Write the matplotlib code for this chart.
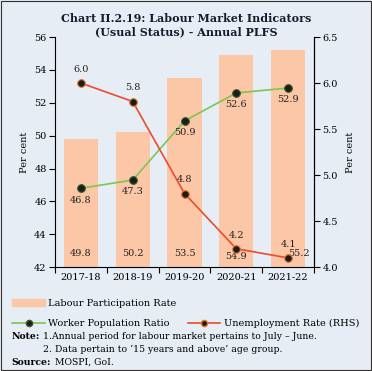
import numpy as np
import matplotlib.pyplot as plt
from matplotlib.patches import Rectangle, Patch
from matplotlib.lines import Line2D

# data
years = ['2017-18', '2018-19', '2019-20', '2020-21', '2021-22']
lpr = [49.8, 50.2, 53.5, 54.9, 55.2]
wpr = [46.8, 47.3, 50.9, 52.6, 52.9]
ur = [6.0, 5.8, 4.8, 4.2, 4.1]

bg = '#e7edf4'
bar_c = '#fbc7a6'
green = '#7cc653'
red = '#ef4a2b'

plt.rcParams['font.family'] = ['DejaVu Serif']
plt.rcParams['font.size'] = 7

fig = plt.figure(figsize=(3.72, 3.71), dpi=100, facecolor=bg)
ax = fig.add_axes([0.148, 0.28, 0.696, 0.62], facecolor=bg)
ax2 = ax.twinx()

x = np.arange(len(years))
ax.bar(x, lpr, width=0.66, color=bar_c, zorder=1)
ax.plot(x, wpr, color=green, lw=1.2, marker='o', ms=5.5,
        mfc='#1c1c1c', mec='#3a5a2a', mew=0.8, zorder=3)
ax2.plot(x, ur, color=red, lw=1.2, marker='o', ms=5.5,
         mfc='#1c1c1c', mec='#e07a30', mew=0.8, zorder=3)

ax.set_ylim(42, 56)
ax.set_yticks(np.arange(42, 57, 2))
ax2.set_ylim(4.0, 6.5)
ax2.set_yticks(np.arange(4.0, 6.51, 0.5))
ax2.set_yticklabels([f'{v:.1f}' for v in np.arange(4.0, 6.51, 0.5)])
ax.set_xlim(-0.5, 4.5)
ax.set_xticks(np.arange(-0.5, 4.6, 1))
ax.set_xticklabels([])
ax.set_xticks(x, minor=True)
ax.set_xticklabels(years, minor=True)
ax.tick_params(axis='x', which='minor', length=0, pad=4)
ax.tick_params(axis='x', which='major', length=4, direction='out')
ax.tick_params(axis='y', length=4, pad=2)
ax2.tick_params(axis='y', length=4, pad=2)

for a in (ax, ax2):
    a.spines['top'].set_visible(False)
    for s in a.spines.values():
        s.set_linewidth(0.8)
ax2.spines['left'].set_visible(False)
ax2.spines['bottom'].set_visible(False)

ax.set_ylabel('Per cent', labelpad=4)
ax2.set_ylabel('Per cent', labelpad=6)

# labels
for i in range(len(years)):
    dx = 0.22 if i == 4 else 0
    dy = -0.15 if i == 3 else 0
    ax.text(x[i] + dx, 42.55 + dy, f'{lpr[i]:.1f}', ha='center', va='bottom', color='#222222')
    ax.text(x[i], wpr[i] - 0.45, f'{wpr[i]:.1f}', ha='center', va='top', color='#222222')
    ax2.text(x[i], ur[i] + 0.1, f'{ur[i]:.1f}', ha='center', va='bottom', color='#222222')

fig.text(0.5, 0.965, 'Chart II.2.19: Labour Market Indicators\n(Usual Status) - Annual PLFS',
         ha='center', va='top', fontsize=8, fontweight='bold', color='#1a1a2e',
         linespacing=1.3)

# legends
fig.legend(handles=[Patch(color=bar_c, label='Labour Participation Rate')],
           loc='center left', bbox_to_anchor=(0.01, 0.183), frameon=False,
           handlelength=3.3, handleheight=0.8, handletextpad=0.4, fontsize=7)
h_w = Line2D([], [], color=green, lw=1.2, marker='o', ms=4.5, mfc='#1c1c1c', mec='#3a5a2a')
h_u = Line2D([], [], color=red, lw=1.2, marker='o', ms=4.5, mfc='#1c1c1c', mec='#e07a30')
fig.legend(handles=[h_w, h_u], labels=['Worker Population Ratio', 'Unemployment Rate (RHS)'],
           loc='center left', bbox_to_anchor=(0.01, 0.128), frameon=False, ncol=2,
           handlelength=3.3, handletextpad=0.4, columnspacing=1.9, fontsize=7)

fs = 6.7
fig.text(0.03, 0.092, 'Note:', fontsize=fs, fontweight='bold', va='center')
fig.text(0.115, 0.092, '1.Annual period for labour market pertains to July \u2013 June.',
         fontsize=fs, va='center')
fig.text(0.115, 0.058, "2. Data pertain to \u201815 years and above\u2019 age group.",
         fontsize=fs, va='center')
fig.text(0.03, 0.024, 'Source:', fontsize=fs, fontweight='bold', va='center')
fig.text(0.148, 0.024, 'MOSPI, GoI.', fontsize=fs, va='center')

fig.patches.append(Rectangle((0.003, 0.003), 0.994, 0.994, transform=fig.transFigure,
                             fill=False, edgecolor='#333333', lw=0.8))

plt.savefig('out.png', dpi=100, facecolor=bg)
